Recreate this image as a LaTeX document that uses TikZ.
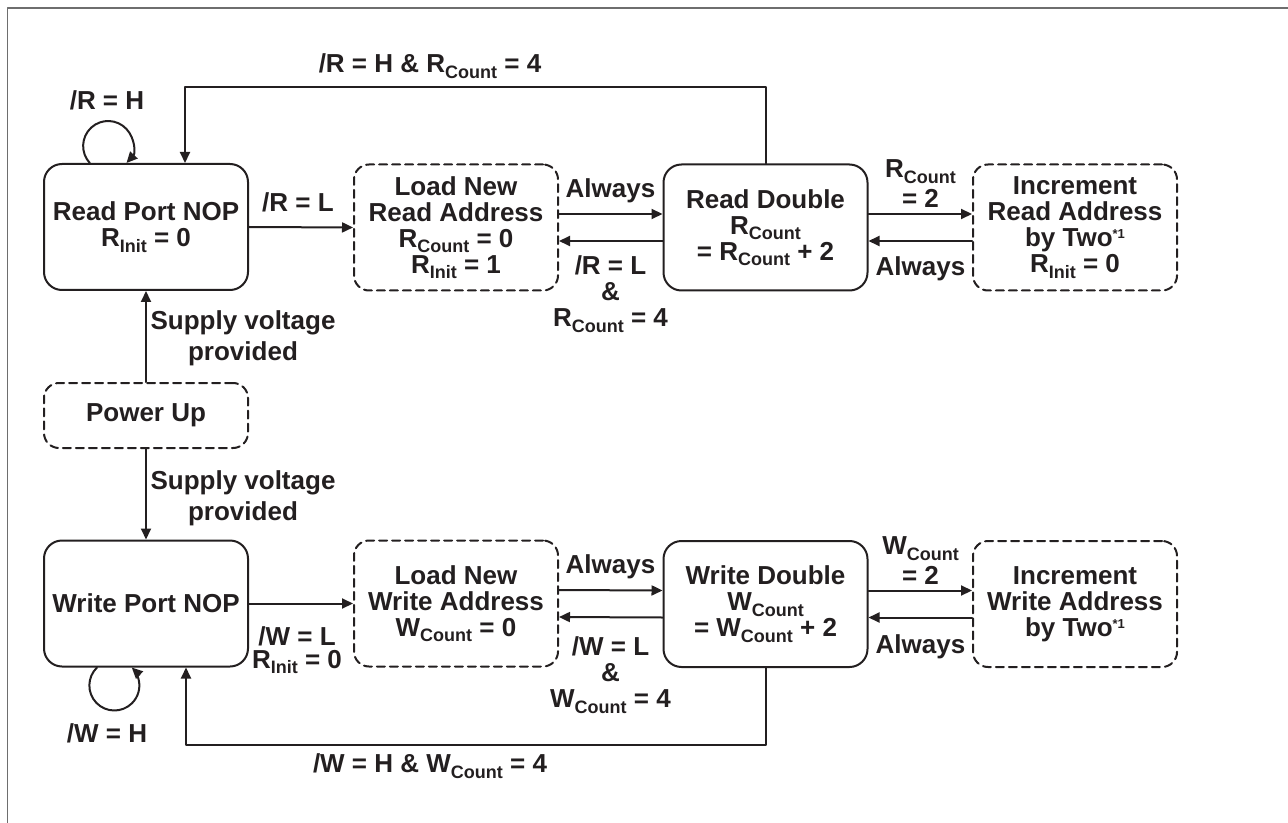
\documentclass[tikz,border=0pt]{standalone}
\usepackage{fontspec}
\setmainfont{Liberation Sans}
\usetikzlibrary{arrows.meta}
\definecolor{ink}{RGB}{35,31,32}
\definecolor{framegray}{RGB}{110,110,110}
\newcommand{\subtxt}[1]{\raisebox{-2.8pt}{\fontsize{9}{9}\selectfont #1}}
\newcommand{\suptxt}[1]{\raisebox{4pt}{\fontsize{6.5}{6.5}\selectfont #1}}
\lineskiplimit=-6pt

\tikzset{
  state/.style={draw=ink, line width=1pt, rounded corners=9pt, align=center, inner sep=0pt, text=ink},
  dstate/.style={state, dash pattern=on 4pt off 2.5pt, rounded corners=7.5pt},
  lbl/.style={text=ink, align=center, inner sep=0pt},
  arr/.style={draw=ink, line width=1pt, -{Triangle[length=5.5pt,width=5pt]}},
  txt/.style={font=\fontsize{13}{13}\selectfont\bfseries},
  widebox/.style={minimum width=102pt, minimum height=63pt},
}

\begin{document}
\begin{tikzpicture}[x=0.5pt,y=-0.5pt,line cap=round,line join=round]
  \useasboundingbox (0,0) rectangle (1288,823);
  % frame
  \draw[framegray, line width=0.8pt, line cap=butt] (7.5,823) -- (7.5,8) -- (1288,8);

  % read side
  \node[state, txt, widebox] (rp) at (146,227) {Read Port NOP\\R\subtxt{Init} = 0};
  \node[dstate, txt, widebox] (lr) at (456,227.5) {Load New\\Read Address\\R\subtxt{Count} = 0\\R\subtxt{Init} = 1};
  \node[state, txt, widebox] (rd) at (765.5,227.5) {Read Double\\R\subtxt{Count}\\= R\subtxt{Count} + 2};
  \node[dstate, txt, widebox] (ir) at (1075,227.5) {Increment\\Read Address\\by Two\suptxt{*1}\\R\subtxt{Init} = 0};

  % power up
  \node[dstate, txt, minimum width=102pt, minimum height=32.5pt] (pu) at (146,415.5) {Power Up};

  % write side
  \node[state, txt, widebox] (wp) at (146,603.5) {Write Port NOP};
  \node[dstate, txt, widebox] (lw) at (456,603.5) {Load New\\Write Address\\W\subtxt{Count} = 0};
  \node[state, txt, widebox] (wd) at (765.5,604) {Write Double\\W\subtxt{Count}\\= W\subtxt{Count} + 2};
  \node[dstate, txt, widebox] (iw) at (1075,604) {Increment\\Write Address\\by Two\suptxt{*1}};

  \coordinate (topline) at (0,87);
  \coordinate (botline) at (0,745);

  % read connectors
  \draw[arr] ([xshift=-28.1pt]rp.north) arc[start angle=222.8, end angle=-42.8, radius=12.5pt];
  \draw[arr] (rp.east) -- (lr.west);
  \draw[arr] ([yshift=6.75pt]lr.east) -- ([yshift=6.75pt]rd.west);
  \draw[arr] ([yshift=-6.75pt]rd.west) -- ([yshift=-6.75pt]lr.east);
  \draw[arr] ([yshift=6.75pt]rd.east) -- ([yshift=6.75pt]ir.west);
  \draw[arr] ([yshift=-6.75pt]ir.west) -- ([yshift=-6.75pt]rd.east);
  \draw[arr] (rd.north) -- (rd.north |- topline) -| ([xshift=19.5pt]rp.north);

  % power connectors
  \draw[arr] (pu.north) -- (rp.south);
  \draw[arr] (pu.south) -- (wp.north);

  % write connectors
  \draw[arr] ([xshift=-24.5pt]wp.south) arc[start angle=134, end angle=406, radius=12.5pt];
  \draw[arr] (wp.east) -- (lw.west);
  \draw[arr] ([yshift=6.75pt]lw.east) -- ([yshift=6.75pt]wd.west);
  \draw[arr] ([yshift=-6.75pt]wd.west) -- ([yshift=-6.75pt]lw.east);
  \draw[arr] ([yshift=6.75pt]wd.east) -- ([yshift=6.75pt]iw.west);
  \draw[arr] ([yshift=-6.75pt]iw.west) -- ([yshift=-6.75pt]wd.east);
  \draw[arr] (wd.south) -- (wd.south |- botline) -| ([xshift=20pt]wp.south);

  % labels
  \node[lbl, txt] (rloop) at (107,100) {/R = H};
  \node[lbl, txt] (rback) at (430,66) {/R = H \& R\subtxt{Count} = 4};
  \node[lbl, txt] (rgo) at (298,202) {/R = L};
  \node[lbl, txt] (ralw) at (610.5,191) {Always};
  \node[lbl, txt] (rret) at (610.5,294) {/R = L\\\&\\R\subtxt{Count} = 4};
  \node[lbl, txt] (rtwo) at (920.5,184) {R\subtxt{Count}\\[2pt]= 2};
  \node[lbl, txt] (ralwb) at (920.5,269) {Always};

  \node[lbl, font=\fontsize{13}{15.5}\selectfont\bfseries] (pwra) at (243,338) {Supply voltage\\provided};
  \node[lbl, font=\fontsize{13}{15.5}\selectfont\bfseries] (pwrb) at (243,498) {Supply voltage\\provided};

  \node[lbl, txt] (wloop) at (107,733) {/W = H};
  \node[lbl, txt] (wback) at (430,766) {/W = H \& W\subtxt{Count} = 4};
  \node[lbl, font=\fontsize{13}{11.5}\selectfont\bfseries] (wgo) at (297,650) {/W = L\\R\subtxt{Init} = 0};
  \node[lbl, txt] (walw) at (610.5,567) {Always};
  \node[lbl, txt] (wret) at (610.5,675) {/W = L\\\&\\W\subtxt{Count} = 4};
  \node[lbl, txt] (wtwo) at (920.5,561) {W\subtxt{Count}\\[2pt]= 2};
  \node[lbl, txt] (walwb) at (920.5,647) {Always};
\end{tikzpicture}
\end{document}
